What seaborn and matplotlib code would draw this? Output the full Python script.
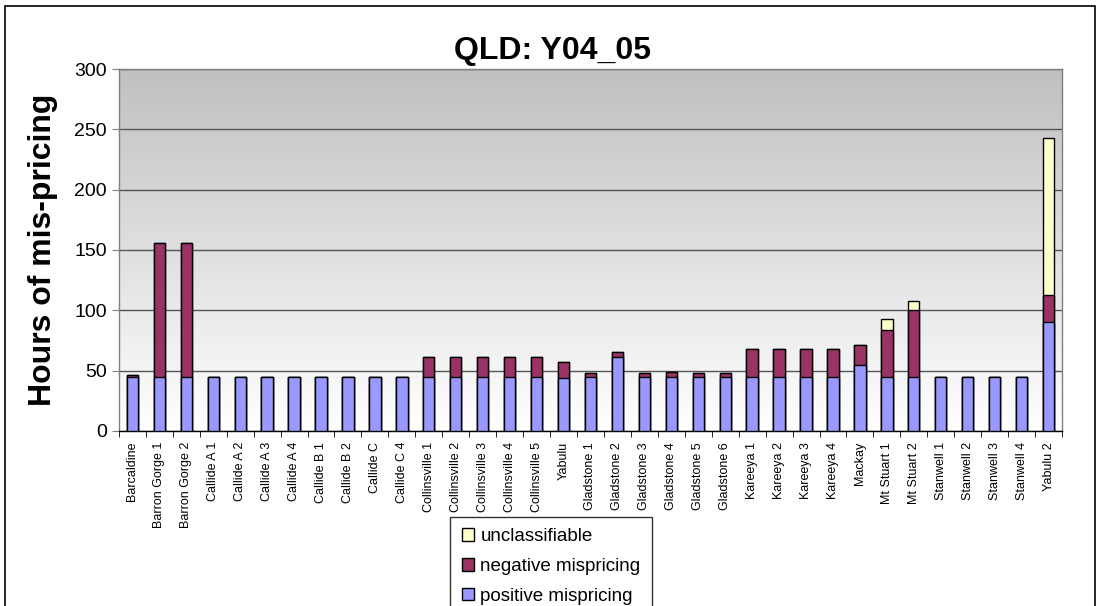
import numpy as np
import pandas as pd
import matplotlib
matplotlib.use("Agg")
import matplotlib.pyplot as plt
import seaborn as sns
from matplotlib.patches import Rectangle, Patch

# ---- data ----
stations = ["Barcaldine", "Barron Gorge 1", "Barron Gorge 2", "Callide A 1", "Callide A 2",
            "Callide A 3", "Callide A 4", "Callide B 1", "Callide B 2", "Callide C",
            "Callide C 4", "Collinsville 1", "Collinsville 2", "Collinsville 3",
            "Collinsville 4", "Collinsville 5", "Yabulu", "Gladstone 1", "Gladstone 2",
            "Gladstone 3", "Gladstone 4", "Gladstone 5", "Gladstone 6", "Kareeya 1",
            "Kareeya 2", "Kareeya 3", "Kareeya 4", "Mackay", "Mt Stuart 1", "Mt Stuart 2",
            "Stanwell 1", "Stanwell 2", "Stanwell 3", "Stanwell 4", "Yabulu 2"]
positive = [45, 45, 45, 45, 45, 45, 45, 45, 45, 45, 45, 45, 45, 45, 45, 45, 44, 45, 61,
            45, 45, 45, 45, 45, 45, 45, 45, 55, 45, 45, 45, 45, 45, 45, 90]
negative = [1, 111, 111, 0, 0, 0, 0, 0, 0, 0, 0, 16, 16, 16, 16, 16, 13, 3, 4,
            3, 4, 3, 3, 23, 23, 23, 23, 16, 39, 55, 0, 0, 0, 0, 23]
unclassifiable = [0, 0, 0, 0, 0, 0, 0, 0, 0, 0, 0, 0, 0, 0, 0, 0, 0, 0, 0,
                  0, 0, 0, 0, 0, 0, 0, 0, 0, 9, 8, 0, 0, 0, 0, 130]

col_pos = "#9999ff"
col_neg = "#993366"
col_unc = "#ffffcc"

df = pd.DataFrame({"station": stations, "pos": positive, "neg": negative, "unc": unclassifiable})
df["pos_neg"] = df["pos"] + df["neg"]
df["total"] = df["pos_neg"] + df["unc"]

plt.rcParams["font.family"] = ["Liberation Sans", "DejaVu Sans"]

fig = plt.figure(figsize=(11.01, 6.06), dpi=100)
ax = fig.add_axes([0.108, 0.289, 0.8566, 0.597])

# gradient background (white bottom -> grey top)
grad = np.linspace(0, 1, 256).reshape(-1, 1)
cmap = matplotlib.colors.LinearSegmentedColormap.from_list("g", ["#ffffff", "#c0c0c0"])
ax.imshow(grad, cmap=cmap, origin="lower",
          extent=[-0.5, len(stations) - 0.5, 0, 300], aspect="auto", zorder=0)

# stacked bars drawn as overlapping cumulative totals
for col, c in [("total", col_unc), ("pos_neg", col_neg), ("pos", col_pos)]:
    sns.barplot(data=df, x="station", y=col, color=c, width=0.42, edgecolor="black",
                linewidth=1.0, saturation=1, ax=ax, zorder=3)

ax.set_xlim(-0.5, len(stations) - 0.5)
ax.set_ylim(0, 300)
ax.set_yticks(range(0, 301, 50))
ax.yaxis.grid(True, color="#555555", linewidth=1.0)
for gl in ax.get_ygridlines():
    gl.set_zorder(1)

ax.set_xticks(range(len(stations)))
ax.set_xticklabels(stations, rotation=90, fontsize=9)
ax.set_xticks(np.arange(-0.5, len(stations), 1), minor=True)
ax.tick_params(axis="x", which="major", length=0, pad=8)
ax.tick_params(axis="x", which="minor", length=4, direction="out", color="black")
ax.tick_params(axis="y", labelsize=14, length=5, color="#808080")
ax.set_xlabel("")
ax.set_ylabel("Hours of mis-pricing", fontsize=23, fontweight="bold", labelpad=12)
ax.set_title("QLD: Y04_05", fontsize=23, fontweight="bold", pad=7, x=0.46)
for s in ax.spines.values():
    s.set_color("#808080")
    s.set_linewidth(1.0)
ax.spines["bottom"].set_color("black")

# legend
handles = [Patch(facecolor=col_unc, edgecolor="black", label="unclassifiable"),
           Patch(facecolor=col_neg, edgecolor="black", label="negative mispricing"),
           Patch(facecolor=col_pos, edgecolor="black", label="positive mispricing")]
leg = fig.legend(handles=handles, loc="upper left", bbox_to_anchor=(0.409, 0.147),
                 fontsize=13.5, frameon=True, fancybox=False, handlelength=0.65,
                 handleheight=0.65, handletextpad=0.35, labelspacing=0.68, borderpad=0.6,
                 borderaxespad=0)
leg.get_frame().set_edgecolor("black")
leg.get_frame().set_linewidth(1.0)

# outer chart border
fig.patches.append(Rectangle((5 / 1101, -0.05), 1090 / 1101, 1 - 6 / 606 + 0.05,
                             transform=fig.transFigure, fill=False, edgecolor="black",
                             linewidth=1.2))

fig.savefig("out.png", dpi=100)
